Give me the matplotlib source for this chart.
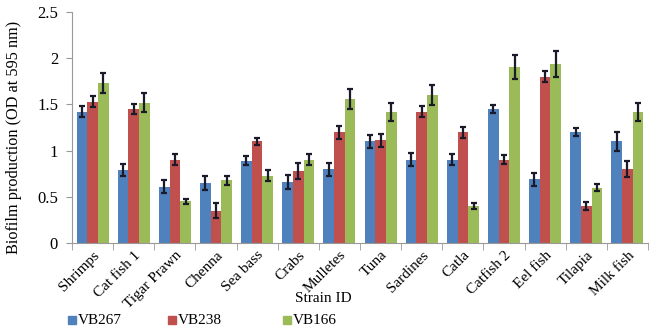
import matplotlib
matplotlib.use("Agg")
import matplotlib.pyplot as plt
import matplotlib.transforms as mtransforms
import numpy as np

categories = ["Shrimps", "Cat fish 1", "Tigar Prawn", "Chenna", "Sea bass", "Crabs",
              "Mulletes", "Tuna", "Sardines", "Catla", "Catfish 2", "Eel fish",
              "Tilapia", "Milk fish"]
vb267 = [1.42, 0.79, 0.61, 0.65, 0.89, 0.66, 0.80, 1.10, 0.90, 0.90, 1.45, 0.69, 1.20, 1.10]
vb238 = [1.53, 1.45, 0.90, 0.35, 1.10, 0.78, 1.20, 1.11, 1.42, 1.20, 0.90, 1.80, 0.40, 0.80]
vb166 = [1.73, 1.52, 0.45, 0.68, 0.73, 0.90, 1.56, 1.42, 1.60, 0.40, 1.91, 1.94, 0.60, 1.42]
err267 = [0.06, 0.06, 0.07, 0.08, 0.05, 0.08, 0.07, 0.07, 0.07, 0.06, 0.04, 0.07, 0.04, 0.10]
err238 = [0.06, 0.05, 0.06, 0.08, 0.04, 0.09, 0.07, 0.07, 0.06, 0.06, 0.05, 0.06, 0.04, 0.09]
err166 = [0.11, 0.10, 0.03, 0.05, 0.06, 0.06, 0.11, 0.10, 0.11, 0.03, 0.13, 0.14, 0.04, 0.10]
series_names = ["VB267", "VB238", "VB166"]
colors = ["#4F81BD", "#C0504D", "#9BBB59"]
yticks = [0, 0.5, 1, 1.5, 2, 2.5]
ytick_labels = ["0", "0.5", "1", "1.5", "2", "2.5"]

plt.rcParams['font.family'] = ['Liberation Serif', 'DejaVu Serif']

fig = plt.figure(figsize=(6.51, 3.30), dpi=100)
ax = fig.add_axes([72/651, 1-243/330, (648-72)/651, (243-12)/330])

x = np.arange(len(categories))
w = 0.26
for i, (vals, errs, name, c) in enumerate(zip([vb267, vb238, vb166], [err267, err238, err166],
                                                series_names, colors)):
    ax.bar(x + (i-1)*w, vals, width=w, color=c, label=name, zorder=2,
           yerr=errs, error_kw=dict(ecolor="#1a1a2a", elinewidth=1.6, capsize=2.5, capthick=1.6))

ax.set_xlim(-0.5, len(categories)-0.5)
ax.set_ylim(0, 2.5)
ax.set_yticks(yticks)
ax.set_yticklabels(ytick_labels, fontsize=12)
ax.set_xticks(x)
ax.set_xticklabels(categories, rotation=45, ha="right", rotation_mode="anchor", fontsize=11)
offset = mtransforms.ScaledTranslation(6/100, 0, fig.dpi_scale_trans)
for lbl in ax.get_xticklabels():
    lbl.set_transform(lbl.get_transform() + offset)
ax.set_xticks(np.arange(-0.5, len(categories)), minor=True)
ax.tick_params(axis="x", which="major", length=0, pad=4)
ax.tick_params(axis="x", which="minor", length=5, color="#999999")
ax.tick_params(axis="y", length=4, color="#999999", pad=6)
for s in ["top", "right"]:
    ax.spines[s].set_visible(False)
ax.spines["left"].set_color("#999999")
ax.spines["bottom"].set_color("#999999")

ax.set_ylabel("Biofilm production (OD at 595 nm)", fontsize=11.7)
ax.yaxis.set_label_coords((22-72)/576, (243-137)/231)
fig.text(323/651, 1-298/330, "Strain ID", ha="center", va="center", fontsize=11)

leg_x = [68, 168, 283]
for hx, c, name in zip(leg_x, colors, series_names):
    fig.patches.append(plt.Rectangle((hx/651, 1-324/330), 8/651, 8/330, color=c,
                                     transform=fig.transFigure, figure=fig))
    fig.text((hx+10)/651, 1-320/330, name, ha="left", va="center", fontsize=11)

fig.savefig("out.png", dpi=100)
